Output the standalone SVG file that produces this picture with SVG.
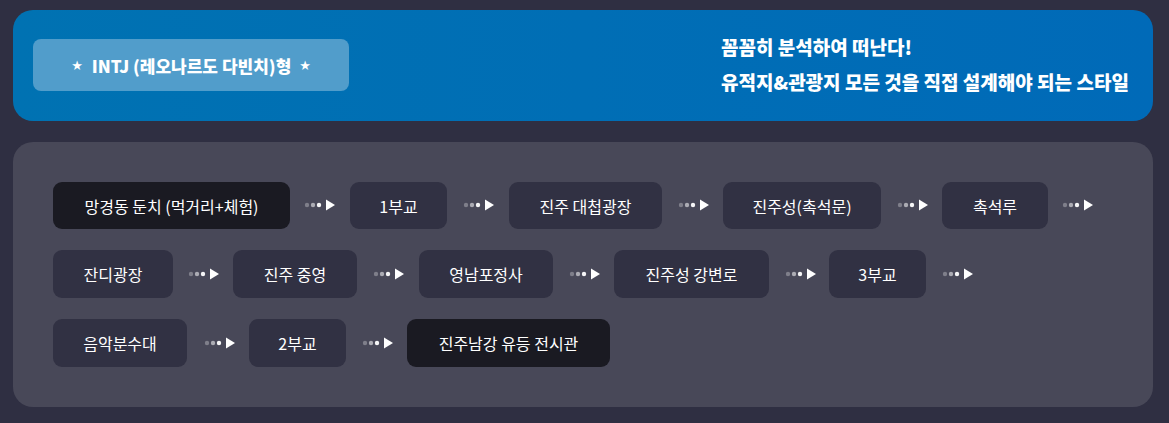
<svg xmlns="http://www.w3.org/2000/svg" width="1169" height="423" viewBox="0 0 1169 423">
<defs>
<linearGradient id="bannerGrad" x1="0" y1="0" x2="1" y2="0">
<stop offset="0" stop-color="#0072b2"/>
<stop offset="1" stop-color="#006ab8"/>
</linearGradient>
<g id="arrow">
<circle cx="0" cy="0" r="2.2" fill="#ffffff" fill-opacity="0.3"/>
<circle cx="6" cy="0" r="2.2" fill="#ffffff" fill-opacity="0.55"/>
<circle cx="12" cy="0" r="2.2" fill="#ffffff" fill-opacity="0.95"/>
<path d="M19,-5.5 L28,0 L19,5.5 Z" fill="#ffffff"/>
</g>
</defs>
<style>
.node{fill:#313143}
.dark{fill:#1a1a22}
.lbl{font-family:"Noto Sans CJK KR","Noto Sans",sans-serif;font-size:16px;fill:#ffffff;text-anchor:middle;dominant-baseline:central}
.hdr{font-family:"Noto Sans CJK KR","Noto Sans",sans-serif;font-size:19px;font-weight:900;fill:#ffffff}
.pill{font-family:"Noto Sans CJK KR","Noto Sans",sans-serif;font-size:17px;font-weight:900;fill:#ffffff;text-anchor:middle;dominant-baseline:central}
.star{font-family:"DejaVu Sans",sans-serif;font-size:13px;fill:#ffffff;text-anchor:middle;dominant-baseline:central}
</style>
<rect x="0" y="0" width="1169" height="423" fill="#2f2f42"/>
<g id="banner">
<rect x="13" y="10" width="1140" height="111" rx="20" fill="url(#bannerGrad)"/>
<rect x="33" y="39" width="316" height="52" rx="8" fill="#519dcb"/>
<text x="77" y="65" class="star">★</text>
<text x="191.5" y="65" class="pill">INTJ (레오나르도 다빈치)형</text>
<text x="305" y="65" class="star">★</text>
<text x="721" y="55" class="hdr">꼼꼼히 분석하여 떠난다!</text>
<text x="721" y="90" class="hdr">유적지&amp;관광지 모든 것을 직접 설계해야 되는 스타일</text>
</g>
<rect x="13" y="142" width="1140" height="265" rx="20" fill="#484858"/>
<g id="n1"><rect x="53" y="182" width="237" height="47" rx="9" class="dark"/><text x="171.5" y="205.5" class="lbl">망경동 둔치 (먹거리+체험)</text></g>
<g id="n2"><rect x="350" y="182" width="97" height="47" rx="9" class="node"/><text x="398.5" y="205.5" class="lbl">1부교</text></g>
<g id="n3"><rect x="509" y="182" width="153" height="47" rx="9" class="node"/><text x="585.5" y="205.5" class="lbl">진주 대첩광장</text></g>
<g id="n4"><rect x="723" y="182" width="158" height="47" rx="9" class="node"/><text x="802" y="205.5" class="lbl">진주성(촉석문)</text></g>
<g id="n5"><rect x="942" y="182" width="106" height="47" rx="9" class="node"/><text x="995" y="205.5" class="lbl">촉석루</text></g>
<g id="n6"><rect x="53" y="250" width="120" height="48" rx="9" class="node"/><text x="113" y="274" class="lbl">잔디광장</text></g>
<g id="n7"><rect x="233" y="250" width="124" height="48" rx="9" class="node"/><text x="295" y="274" class="lbl">진주 중영</text></g>
<g id="n8"><rect x="419" y="250" width="134" height="48" rx="9" class="node"/><text x="486" y="274" class="lbl">영남포정사</text></g>
<g id="n9"><rect x="614" y="250" width="155" height="48" rx="9" class="node"/><text x="691.5" y="274" class="lbl">진주성 강변로</text></g>
<g id="n10"><rect x="829" y="250" width="97" height="48" rx="9" class="node"/><text x="877.5" y="274" class="lbl">3부교</text></g>
<g id="n11"><rect x="53" y="319" width="134" height="48" rx="9" class="node"/><text x="120" y="343" class="lbl">음악분수대</text></g>
<g id="n12"><rect x="249" y="319" width="97" height="48" rx="9" class="node"/><text x="297.5" y="343" class="lbl">2부교</text></g>
<g id="n13"><rect x="407" y="319" width="203" height="48" rx="9" class="dark"/><text x="508.5" y="343" class="lbl">진주남강 유등 전시관</text></g>
<g id="connectors">
<use href="#arrow" x="307" y="205"/>
<use href="#arrow" x="466" y="205"/>
<use href="#arrow" x="681" y="205"/>
<use href="#arrow" x="900" y="205"/>
<use href="#arrow" x="1065" y="205"/>
<use href="#arrow" x="191" y="274"/>
<use href="#arrow" x="376" y="274"/>
<use href="#arrow" x="572" y="274"/>
<use href="#arrow" x="788" y="274"/>
<use href="#arrow" x="945" y="274"/>
<use href="#arrow" x="207" y="343"/>
<use href="#arrow" x="365" y="343"/>
</g>
</svg>
